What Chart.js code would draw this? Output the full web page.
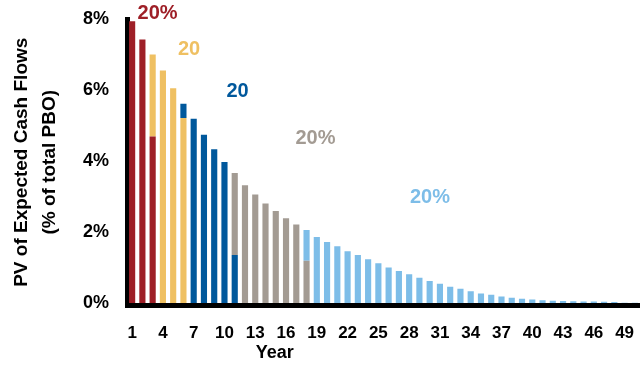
<!DOCTYPE html>
<html>
<head>
<meta charset="utf-8">
<script src="https://cdn.jsdelivr.net/npm/chart.js@4.4.1/dist/chart.umd.min.js"></script>
<style>
  html, body { margin: 0; padding: 0; background: #fff; }
  #wrap { width: 640px; height: 366px; }
</style>
</head>
<body>
<div id="wrap"><canvas id="pvChart"></canvas></div>
<script>
// Years on the x axis
const years = ['1','2','3','4','5','6','7','8','9','10','11','12','13','14','15','16','17','18','19','20',
  '21','22','23','24','25','26','27','28','29','30','31','32','33','34','35','36','37','38','39','40',
  '41','42','43','44','45','46','47','48','49','50'];
const yTicks = [0, 2, 4, 6, 8];

// PV of cash flows (% of PBO), split into the five 20% buckets
const q1Years = ['1', '2', '3'];
const q1Values = [7.94, 7.42, 4.69];
const q2Years = ['3', '4', '5', '6'];
const q2Values = [2.31, 6.55, 6.05, 5.21];
const q3Years = ['6', '7', '8', '9', '10', '11'];
const q3Values = [0.40, 5.19, 4.74, 4.33, 3.97, 1.35];
const q4Years = ['11', '12', '13', '14', '15', '16', '17', '18'];
const q4Values = [2.31, 3.32, 3.06, 2.80, 2.59, 2.39, 2.21, 1.19];
const q5Years = ['18','19','20','21','22','23','24','25','26','27','28','29','30','31','32','33','34',
  '35','36','37','38','39','40','41','42','43','44','45','46','47','48','49','50'];
const q5Values = [0.87, 1.86, 1.72, 1.60, 1.46, 1.35, 1.23, 1.12, 1.00, 0.90, 0.81, 0.71, 0.62, 0.54,
  0.46, 0.40, 0.33, 0.27, 0.23, 0.18, 0.15, 0.12, 0.10, 0.08, 0.065, 0.055, 0.05, 0.045, 0.04, 0.035,
  0.03, 0.01, 0.01];

// "20%" callouts: text, year position, value position
const calloutText = ['20%', '20', '20', '20%', '20%'];
const calloutYear = [3.48, 6.55, 11.27, 18.87, 30.03];
const calloutValue = [8.15, 7.14, 5.95, 4.63, 2.98];

const colors = ['#9e1f27', '#efc062', '#00589c', '#a39b93', '#7dbde8'];
const FONT = "'Liberation Sans', Arial, sans-serif";

const toPoints = (xs, vs) => xs.map((x, i) => ({ x: x, y: vs[i] }));
const buckets = [[q1Years, q1Values], [q2Years, q2Values], [q3Years, q3Values],
  [q4Years, q4Values], [q5Years, q5Values]];

// drop the extra room chart.js keeps for edge tick labels
const noEdgePadding = s => {
    s.paddingTop = 0; s.paddingBottom = 0; s.paddingLeft = 0; s.paddingRight = 0;
};

const calloutPlugin = {
    id: 'callouts',
    afterDraw(chart) {
        const { ctx, scales: { x, y } } = chart;
        ctx.save();
        ctx.font = `bold 20px ${FONT}`;
        ctx.textAlign = 'center';
        ctx.textBaseline = 'middle';
        calloutText.forEach((t, i) => {
            ctx.fillStyle = colors[i];
            ctx.fillText(t, x.getPixelForValue(calloutYear[i] - 1), y.getPixelForValue(calloutValue[i]));
        });
        // x axis title sits left of centre in the original
        ctx.fillStyle = '#000';
        ctx.font = `bold 18px ${FONT}`;
        ctx.fillText('Year', x.getPixelForValue(13.9), 353);
        ctx.restore();
    }
};

new Chart(document.getElementById('pvChart'), {
    type: 'bar',
    data: {
        labels: years,
        datasets: buckets.map((b, i) => ({
            data: toPoints(b[0], b[1]),
            backgroundColor: colors[i],
            borderWidth: 0,
            barPercentage: 0.6,
            categoryPercentage: 1
        }))
    },
    options: {
        responsive: true,
        maintainAspectRatio: false,
        animation: false,
        layout: { padding: { top: 19, right: 0, left: 0, bottom: 0 } },
        plugins: { legend: { display: false }, tooltip: { enabled: false } },
        scales: {
            x: {
                stacked: true,
                grid: { display: false, drawTicks: false },
                border: { color: '#000', width: 5 },
                ticks: {
                    autoSkip: false,
                    maxRotation: 0,
                    padding: 18,
                    color: '#000',
                    font: { family: FONT, size: 17, weight: 'bold' },
                    callback: function (v, i) { return i % 3 === 0 ? this.getLabelForValue(v) : ''; }
                },
                afterFit: s => { s.height = 60.5; noEdgePadding(s); }
            },
            y: {
                stacked: true,
                min: -0.07,
                max: 8,
                afterBuildTicks: s => { s.ticks = yTicks.map(v => ({ value: v })); },
                grid: { display: false, drawTicks: false },
                border: { color: '#000', width: 5 },
                ticks: {
                    padding: 18,
                    color: '#000',
                    font: { family: FONT, size: 18, weight: 'bold' },
                    callback: v => v + '%'
                },
                title: {
                    display: true,
                    text: ['PV of Expected Cash Flows', '(% of total PBO)'],
                    color: '#000',
                    padding: { top: 8, bottom: 0 },
                    font: { family: FONT, size: 19, weight: 'bold', lineHeight: 1.45 }
                },
                afterFit: s => { s.width = 127; noEdgePadding(s); }
            }
        }
    },
    plugins: [calloutPlugin]
});
</script>
</body>
</html>
